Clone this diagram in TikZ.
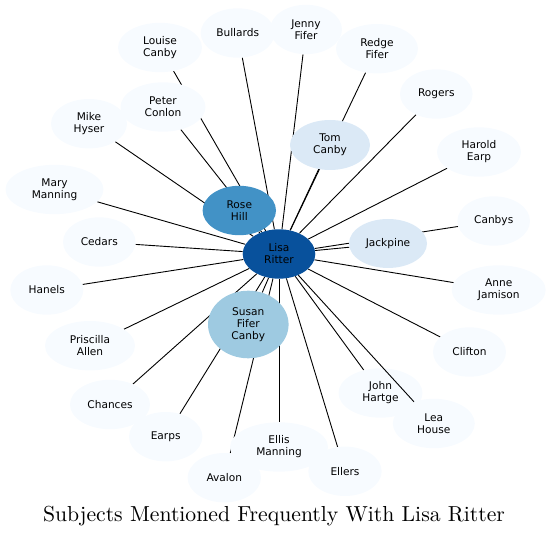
\documentclass[tikz,border=0pt]{standalone}
\usepackage{fontspec}
\setsansfont{DejaVu Sans}
\newfontfamily\titlefont{lmroman10-regular.otf}
\usetikzlibrary{shapes.geometric,backgrounds}
\definecolor{blueLisa}{HTML}{08519C}
\definecolor{blueRose}{HTML}{4292C6}
\definecolor{blueSusan}{HTML}{9ECAE1}
\definecolor{blueTom}{HTML}{DBE9F6}
\definecolor{bluePale}{HTML}{F7FBFF}

\begin{document}
\begin{tikzpicture}[x=1pt, y=-1pt, font=\sffamily\fontsize{10.6}{12}\selectfont, line join=round, line cap=round,
	subj/.style={ellipse, fill=bluePale, inner sep=0pt, minimum width=73pt, minimum height=49.4pt, align=center},
	link/.style={line width=0.9pt}]
	\useasboundingbox (0,0) rectangle (550,537);
	% subjects, strongest first
	\node[subj, fill=blueLisa, minimum width=72.6pt] (lisa) at (279,254) {Lisa\\Ritter};
	\node[subj, fill=blueRose, minimum width=73.4pt] (rose) at (239.3,210.5) {Rose\\Hill};
	\node[subj, fill=blueSusan, minimum width=80.6pt, minimum height=67.6pt] (susan) at (248.3,324.5) {Susan\\Fifer\\Canby};
	\node[subj, fill=blueTom, minimum width=80pt, minimum height=50pt] (tom) at (330,145) {Tom\\Canby};
	\node[subj, fill=blueTom, minimum width=78pt, minimum height=49pt] (jackpine) at (388,243.5) {Jackpine};
	% the rest
	\node[subj, minimum width=84pt] (louise) at (160,47.5) {Louise\\Canby};
	\node[subj, minimum width=74pt] (bullards) at (237.7,33) {Bullards};
	\node[subj, minimum width=72pt] (jenny) at (306,29.5) {Jenny\\Fifer};
	\node[subj, minimum width=82pt] (redge) at (377,48.7) {Redge\\Fifer};
	\node[subj, minimum width=72.6pt] (rogers) at (436.3,94) {Rogers};
	\node[subj, minimum width=84pt] (harold) at (479,152) {Harold\\Earp};
	\node[subj, minimum width=72.6pt] (canbys) at (493.7,221) {Canbys};
	\node[subj, minimum width=85pt] (peter) at (163,107) {Peter\\Conlon};
	\node[subj, minimum width=76pt] (mike) at (89,123.7) {Mike\\Hyser};
	\node[subj, minimum width=98pt] (mary) at (54.5,189.5) {Mary\\Manning};
	\node[subj, minimum width=72.6pt] (cedars) at (99.3,242) {Cedars};
	\node[subj] (hanels) at (46.8,290) {Hanels};
	\node[subj, minimum width=90pt] (priscilla) at (90,345.7) {Priscilla\\Allen};
	\node[subj, minimum width=80pt] (chances) at (110,404.5) {Chances};
	\node[subj, minimum width=73.4pt] (earps) at (165.7,436.7) {Earps};
	\node[subj, minimum width=98pt] (ellis) at (279,447) {Ellis\\Manning};
	\node[subj, minimum width=73.4pt] (avalon) at (224.3,477.7) {Avalon};
	\node[subj, minimum width=73.4pt] (ellers) at (345,471.3) {Ellers};
	\node[subj, minimum width=84pt] (john) at (380.5,393) {John\\Hartge};
	\node[subj, minimum width=82pt] (lea) at (433.8,423.5) {Lea\\House};
	\node[subj] (clifton) at (469.5,352) {Clifton};
	\node[subj, minimum width=94pt] (anne) at (498.7,290) {Anne\\Jamison};
	% links behind the nodes
	\begin{pgfonlayer}{background}
	\foreach \n in {rose, susan, tom, jackpine, louise, bullards, jenny, redge, rogers, harold, canbys, peter, mike, mary, cedars, hanels, priscilla, chances, earps, ellis, avalon, ellers, john, clifton, anne}
	\draw[link] (lisa) -- (\n);
	\end{pgfonlayer}
	\draw[link] (lisa) -- (lea);
	\node (title) at (274,516) {\titlefont\fontsize{21.7}{24}\selectfont Subjects Mentioned Frequently With Lisa Ritter};
\end{tikzpicture}
\end{document}
